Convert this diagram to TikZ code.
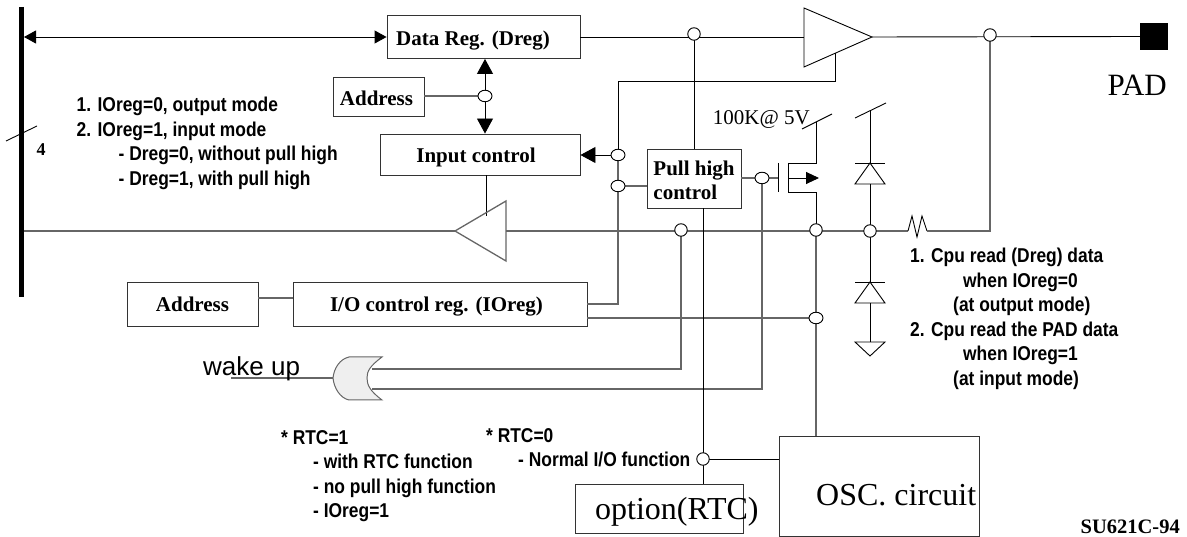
\documentclass[tikz,border=0pt]{standalone}
\usepackage{fontspec}
\setmainfont{Liberation Serif}
\newfontfamily\notefont[FakeStretch=0.87]{Liberation Sans}
\newfontfamily\wakefont{Liberation Sans}
\usetikzlibrary{shapes,arrows.meta,calc}

\definecolor{wiregray}{HTML}{666666}
\definecolor{orfill}{HTML}{EFEFEF}
\newcommand{\lowtext}[2]{\raisebox{#1}[0.7em][0.2em]{#2}}

\tikzset{
	wire/.style={draw=black, line width=0.9pt},
	greywire/.style={draw=wiregray, line width=1.3pt},
	regbox/.style={draw=black!80, line width=0.9pt, inner sep=0, font=\bfseries\fontsize{21}{24}\selectfont},
	bigbox/.style={draw=black!80, line width=0.9pt, inner sep=0},
	dot/.style={circle, draw=black, line width=0.9pt, fill=white, inner sep=0, minimum size=12.5pt},
	widedot/.style={ellipse, draw=black, line width=0.9pt, fill=white, inner sep=0, minimum width=14pt, minimum height=11.5pt},
	note/.style={inner sep=0, anchor=north west, align=left, font=\notefont\bfseries\fontsize{20}{24.5}\selectfont},
	bigtip/.style={-{Triangle[length=15pt,width=16pt]}},
	smalltip/.style={{Triangle[length=12pt,width=13pt]}-{Triangle[length=12pt,width=13pt]}}
}

\begin{document}
\begin{tikzpicture}[x=1pt, y=-1pt]
	\useasboundingbox (0,0) rectangle (1187,537);

	\node[regbox, minimum width=193pt, minimum height=43pt] (data-reg) at (483.5,37) {\hspace*{-21pt}\lowtext{-3.5pt}{Data Reg. (Dreg)}};
	\node[regbox, minimum width=91pt, minimum height=39pt] (addr-top) at (378.5,96.5) {\hspace*{-4pt}\lowtext{-4pt}{Address}};
	\node[regbox, minimum width=200pt, minimum height=41pt] (in-ctl) at (480,154.5) {\hspace*{-8pt}\lowtext{-2.5pt}{Input control}};
	\node[regbox, minimum width=94pt, minimum height=59pt, align=left] (pull) at (694,178.5) {\lowtext{-3.5pt}{Pull high}\\\lowtext{-3.5pt}{control}};
	\node[regbox, minimum width=131pt, minimum height=44pt] (addr-low) at (192.5,304) {\lowtext{-2.5pt}{Address}};
	\node[regbox, minimum width=294pt, minimum height=44pt] (io-reg) at (440,304) {\hspace*{-7pt}\lowtext{-2pt}{I/O control reg. (IOreg)}};
	\node[bigbox, minimum width=168pt, minimum height=49pt] (option) at (659,508.5) {};
	\node[bigbox, minimum width=200pt, minimum height=100pt] (osc) at (879,486) {};
	\node[fill=black, minimum width=28pt, minimum height=27pt, inner sep=0] (pad) at (1154,36.5) {};

	\foreach \name/\point in {jn-top/{(694,34)},jn-pad/{(990,35)},jn-addr/{(485,96)},jn-en/{(618,155)},jn-pull/{(618,186)},
		jn-gate/{(762,178)},jn-rx/{(681,230)},jn-src/{(816,230)},jn-clamp/{(870,231)},jn-io/{(816,318)},jn-opt/{(703,459)}}
	{
		\node[coordinate] (\name) at \point { };
	}

	\coordinate (bus-top) at (24,37);
	\coordinate (bus-low) at (24,231);
	\coordinate (drv-in) at (804,37);
	\coordinate (drv-tip) at (872,37);
	\coordinate (drv-en) at (835,53);
	\coordinate (en-top) at (618,81);
	\coordinate (en-low) at (618,304);
	\coordinate (rx-tip) at (455,231);
	\coordinate (rx-base) at (506,231);
	\coordinate (rx-en) at (486,216);
	\coordinate (res-a) at (908,231);
	\coordinate (res-b) at (927,231);
	\coordinate (gate-mid) at (778,178);
	\coordinate (ch-top) at (788,163);
	\coordinate (ch-mid) at (788,178);
	\coordinate (ch-low) at (788,192);
	\coordinate (mos-tip) at (819,178);
	\coordinate (vdd-a) at (816,122);
	\coordinate (vdd-b) at (870,111);
	\coordinate (or-out) at (333,378);
	\coordinate (or-a) at (372,369);
	\coordinate (or-b) at (372,389);
	\coordinate (wake-end) at (231,378);

	\draw[line width=4.6pt] (21.5,7) -- (21.5,297);
	\draw[wire] (6,141) -- (37,126);
	\draw[wire] (802,129) -- (832,114);
	\draw[wire] (855,118) -- (886,103);

	\draw[wire, smalltip] (bus-top) -- (data-reg.west);
	\draw[wire] (data-reg.east) -- (drv-in);
	\draw[wire] (drv-tip) -- (pad.west);
	\draw[wire] (jn-top) -- (pull.north);
	\draw[wire] (drv-in) -- (804,8) -- (drv-tip) -- (804,67) -- cycle;
	\draw[wire] (drv-en) |- (en-top) -- (jn-en);
	\draw[greywire] (jn-en) -- (en-low) -- (en-low -| io-reg.east);
	\draw[wire, bigtip] (jn-addr) -- (data-reg.south -| jn-addr);
	\draw[wire, bigtip] (jn-addr) -- (in-ctl.north -| jn-addr);
	\draw[greywire] (addr-top.east |- jn-addr) -- (jn-addr);
	\draw[wire, bigtip] (jn-en) -- (in-ctl.east |- jn-en);
	\draw[greywire] (jn-pull) -- (pull.west |- jn-pull);
	\draw[wire] (in-ctl.south -| rx-en) -- (rx-en);
	\draw[greywire] (rx-tip) -- (506,201) -- (506,261) -- cycle;
	\draw[greywire] (bus-low) -- (rx-tip);
	\draw[greywire] (rx-base) -- (res-a);
	\draw[wire] (res-a) -- (912,216) -- (917,237) -- (922,216) -- (res-b);
	\draw[greywire] (res-b) -| (jn-pad);
	\draw[greywire] ([yshift=6pt]addr-low.east) -- ([yshift=6pt]io-reg.west);
	\draw[greywire] (jn-io -| io-reg.east) -- (jn-io);
	\draw[greywire] (jn-src) -- (osc.north -| jn-src);

	\draw[greywire] (pull.east |- jn-gate) -- (gate-mid);
	\draw[wire] (778,163) -- (778,192);
	\draw[wire] (ch-top) -- (ch-low);
	\draw[wire] (ch-top) -| (vdd-a);
	\draw[wire] (ch-low) -| (jn-src);
	\draw[wire, -{Triangle[length=13pt,width=12pt]}] (ch-mid) -- (mos-tip);

	\draw[wire] (vdd-b) -- (870,163);
	\draw[wire] (870,184) -- (870,282);
	\draw[wire] (870,303) -- (870,342);
	\foreach \apex/\base in {163/184, 282/303}
	{
		\draw[wire] (855,\apex) -- (885,\apex);
		\draw[wire] (870,\apex) -- (855,\base) -- (885,\base) -- cycle;
	}
	\draw[wire] (855,342) -- (885,342) -- (870,356) -- cycle;

	\draw[draw=wiregray, line width=1pt, fill=orfill] (382,357) -- (349,357) .. controls (340,359) and (334,368) .. (or-out)
		.. controls (334,388) and (340,398) .. (349,400) -- (382,400) .. controls (370,391) and (367,385) .. (367,378)
		.. controls (367,371) and (370,366) .. cycle;
	\draw[greywire] (or-a) -| (jn-rx);
	\draw[greywire] (or-b) -| (jn-gate);
	\draw[greywire] (or-out) -- (wake-end);
	\draw[wire] (pull.south -| jn-opt) -- (option.north -| jn-opt);
	\draw[wire] (jn-opt) -- (osc.west |- jn-opt);

	\foreach \name in {jn-top,jn-pad,jn-rx,jn-src,jn-clamp,jn-opt}
	{
		\node[dot] (\name-dot) at (\name) { };
	}
	\foreach \name in {jn-addr,jn-en,jn-pull,jn-gate,jn-io}
	{
		\node[widedot] (\name-dot) at (\name) { };
	}

	\node[font=\fontsize{21}{23}\selectfont, anchor=east, inner sep=0] (pull-res) at (810,120) {100K@ 5V};
	\node[font=\fontsize{31}{33}\selectfont, anchor=east, inner sep=0] (pad-text) at (1167,85) {PAD};
	\node[font=\fontsize{32}{34}\selectfont, anchor=west, inner sep=0] (option-text) at (595,512) {option(RTC)};
	\node[font=\fontsize{32}{34}\selectfont, anchor=west, inner sep=0] (osc-text) at (816,495) {OSC. circuit};
	\node[font=\wakefont\fontsize{26}{28}\selectfont, anchor=base west, inner sep=0] (wake-text) at (203,376) {wake up};
	\node[font=\bfseries\fontsize{20.5}{22}\selectfont, anchor=east, inner sep=0] (part-text) at (1180,526.5) {SU621C-94};
	\node[font=\bfseries\fontsize{18}{20}\selectfont, inner sep=0] (bus-width) at (41,150) {4};

	\node[note] (mode-note) at (76.5,97) {1. IOreg=0, output mode\\2. IOreg=1, input mode\\\hspace*{42pt}- Dreg=0, without pull high\\\hspace*{42pt}- Dreg=1, with pull high};
	\node[note] (read-note) at (910,248) {1. Cpu read (Dreg) data\\\hspace*{53pt}when IOreg=0\\\hspace*{43pt}(at output mode)\\2. Cpu read the PAD data\\\hspace*{53pt}when IOreg=1\\\hspace*{43pt}(at input mode)};
	\node[note] (rtc-on) at (281,430) {* RTC=1\\\hspace*{32pt}- with RTC function\\\hspace*{32pt}- no pull high function\\\hspace*{32pt}- IOreg=1};
	\node[note] (rtc-off) at (486,428) {* RTC=0\\\hspace*{32pt}- Normal I/O function};
\end{tikzpicture}
\end{document}
